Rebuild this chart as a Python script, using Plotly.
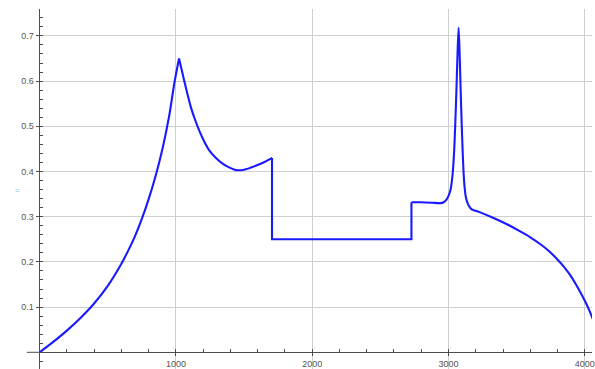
import plotly.graph_objects as go

# Sampled curve: x position and response value
x_vals = [
    0, 100, 200, 300, 400, 500, 600, 650, 700, 750, 800, 850, 900, 950, 990, 1023,
    1040, 1060, 1085, 1109, 1140, 1169, 1205, 1242, 1290, 1340, 1390, 1441, 1500, 1580, 1650, 1705,
    1705, 1900, 2100, 2300, 2500, 2728,
    2728, 2800, 2880, 2940, 2965, 2985, 3000, 3015, 3025, 3033, 3042, 3050, 3058, 3066, 3074,
    3082, 3089, 3096, 3103, 3110, 3118, 3128, 3140, 3155, 3170,
    3200, 3237, 3309, 3383, 3450, 3529, 3600, 3675, 3740, 3797, 3850, 3894, 3935, 3967,
    3995, 4016, 4035, 4053, 4070,
]
y_vals = [
    0.000, 0.023, 0.048, 0.076, 0.108, 0.147, 0.196, 0.225, 0.257, 0.295, 0.339, 0.389, 0.448, 0.522, 0.598, 0.650,
    0.628, 0.602, 0.571, 0.543, 0.515, 0.492, 0.468, 0.448, 0.431, 0.418, 0.409, 0.403, 0.404, 0.412, 0.421, 0.430,
    0.250, 0.250, 0.250, 0.250, 0.250, 0.250,
    0.332, 0.332, 0.331, 0.330, 0.332, 0.338, 0.346, 0.360, 0.380, 0.405, 0.450, 0.510, 0.580, 0.660, 0.718,
    0.655, 0.580, 0.510, 0.450, 0.400, 0.365, 0.342, 0.330, 0.321, 0.316,
    0.313, 0.309, 0.300, 0.290, 0.280, 0.267, 0.2545, 0.239, 0.223, 0.206, 0.188, 0.170, 0.150, 0.133,
    0.117, 0.104, 0.091, 0.078, 0.065,
]

# Pieces of the curve: (first index, last index, smooth?)
pieces = [
    (0, 15, True),    # rise to the first cusp
    (15, 31, True),   # decay and recovery
    (31, 38, False),  # step down, flat floor, step up
    (38, 82, True),   # plateau, narrow resonance and tail
]

x_ticks = [1000, 2000, 3000, 4000]
x_tick_text = ["1000", "2000", "3000", "4000"]
y_ticks = [0.1, 0.2, 0.3, 0.4, 0.5, 0.6, 0.7]
y_tick_text = ["0.1", "0.2", "0.3", "0.4", "0.5", "0.6", "0.7"]

W, H = 595, 369
AXIS_X_PX = 39.8      # pixel column of the vertical axis
AXIS_Y_PX = 352.3     # pixel row of the horizontal axis
TOP_PX = 9.3
PX_PER_UNIT_Y = 452.0
PX_PER_UNIT_X = 0.137

y_lo = -(H - AXIS_Y_PX) / PX_PER_UNIT_Y
y_hi = (AXIS_Y_PX - TOP_PX) / PX_PER_UNIT_Y
x_hi = (W - AXIS_X_PX) / PX_PER_UNIT_X

tick_font = dict(family="Liberation Sans, Arial, sans-serif", size=9, color="#555555")
axis_col = "#4d4d4d"
grid_col = "#cfcfcf"
curve_col = "#1a1aff"

fig = go.Figure()
for i0, i1, smooth in pieces:
    fig.add_trace(go.Scatter(
        x=x_vals[i0:i1 + 1], y=y_vals[i0:i1 + 1], mode="lines",
        line=dict(color=curve_col, width=2.1,
                  shape="spline" if smooth else "linear",
                  smoothing=0.8 if smooth else None),
        hoverinfo="skip", showlegend=False,
    ))

fig.update_layout(
    width=W, height=H,
    margin=dict(l=0, r=0, t=0, b=0),
    paper_bgcolor="white", plot_bgcolor="white",
    showlegend=False,
    xaxis=dict(
        domain=[AXIS_X_PX / W, 1],
        range=[0, x_hi],
        anchor="free",
        position=(H - AXIS_Y_PX) / H,
        showline=True, linecolor=axis_col, linewidth=1,
        showgrid=True, gridcolor=grid_col, gridwidth=1,
        zeroline=False,
        tickmode="array", tickvals=x_ticks, ticktext=x_tick_text,
        ticks="outside", ticklen=3, tickcolor=axis_col, tickwidth=1,
        minor=dict(dtick=200, tick0=0, ticks="inside", ticklen=3,
                   tickcolor=axis_col, showgrid=False),
        tickfont=tick_font,
        ticklabeloverflow="allow",
    ),
    yaxis=dict(
        domain=[0, 1 - TOP_PX / H],
        range=[y_lo, y_hi],
        anchor="x",
        showline=True, linecolor=axis_col, linewidth=1,
        showgrid=True, gridcolor=grid_col, gridwidth=1,
        zeroline=False,
        tickmode="array", tickvals=y_ticks, ticktext=y_tick_text,
        ticks="outside", ticklen=3, tickcolor=axis_col, tickwidth=1,
        minor=dict(dtick=0.02, tick0=0, ticks="inside", ticklen=3,
                   tickcolor=axis_col, showgrid=False),
        tickfont=tick_font,
    ),
    annotations=[
        dict(text="=", x=13 / W, y=1 - 190 / H, xref="paper", yref="paper",
             showarrow=False, font=dict(family="Liberation Sans", size=8, color="#7cc4d6")),
    ],
    shapes=[
        # short stub of the horizontal axis left of the vertical axis
        dict(type="line", xref="paper", yref="y", x0=27 / W, x1=AXIS_X_PX / W,
             y0=0, y1=0, line=dict(color=axis_col, width=1)),
    ],
)

fig.write_html("out.html", config={"displayModeBar": False})
